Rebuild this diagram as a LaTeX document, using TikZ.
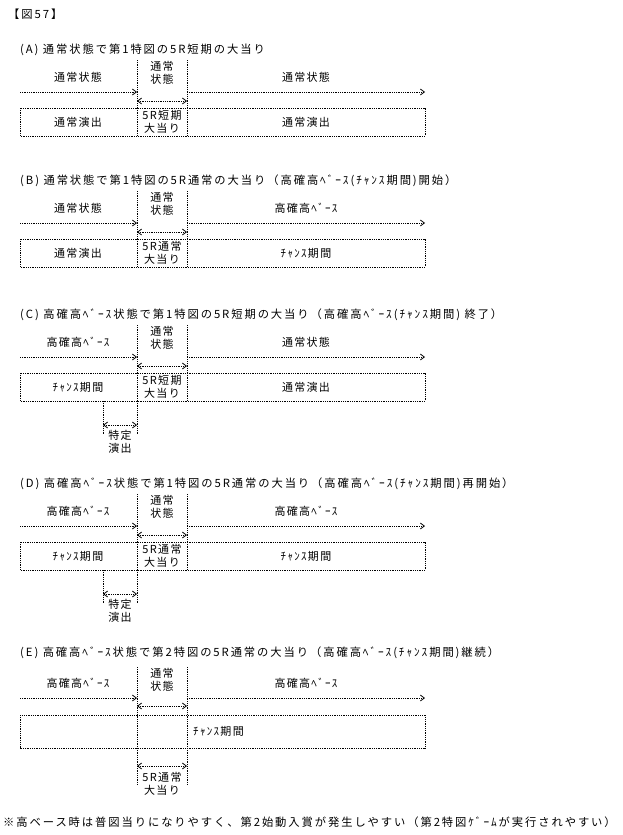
\documentclass[tikz,border=0pt]{standalone}
\usepackage{fontspec}
\setmainfont{Noto Sans CJK JP}
\usetikzlibrary{arrows.meta}
\tikzset{
  dotline/.style={densely dotted, line width=0.8pt},
  arrow/.style={dotline, -{Straight Barb[length=4pt,width=6pt]}},
  darrow/.style={dotline, {Straight Barb[length=4pt,width=6pt]}-{Straight Barb[length=4pt,width=6pt]}},
  lbl/.style={font=\fontsize{11}{12.5}\selectfont\addfontfeatures{LetterSpace=12}, inner sep=1pt, align=center},
  ttl/.style={font=\fontsize{11.3}{13}\selectfont\addfontfeatures{LetterSpace=17}, anchor=west, inner sep=0pt}
}
% one timeline section: id, y offset, title, left label, right label, box left, box mid, box right
\newcommand\tlsec[8]{%
  \begin{scope}[shift={(0,#2)}]
    \node (#1t) [ttl] at (20,0) {#3};
    \node (#1l) [lbl] at (78,27) {#4};
    \node (#1m) [lbl] at (162,23) {通常\\状態};
    \node (#1r) [lbl] at (306,27) {#5};
    \coordinate (#1a0) at (20,42);
    \coordinate (#1a1) at (137,42);
    \coordinate (#1a2) at (187,42);
    \coordinate (#1a3) at (425,42);
    \coordinate (#1d1) at (137,51);
    \coordinate (#1d2) at (187,51);
    \draw [dotline] (137,10) -- (137,58);
    \draw [dotline] (187,10) -- (187,58);
    \draw [arrow] (#1a0) -- (#1a1);
    \draw [arrow] (#1a2) -- (#1a3);
    \draw [darrow] (#1d1) -- (#1d2);
    \draw [dotline] (20,58) rectangle (425,86);
    \draw [dotline] (137,58) -- (137,86);
    \draw [dotline] (187,58) -- (187,86);
    \node (#1b1) [lbl] at (78,72) {#6};
    \node (#1b2) [lbl] at (162,72) {#7};
    \node (#1b3) [lbl] at (306,72) {#8};
  \end{scope}}
% extra special-effect span below the box
\newcommand\tlspec[2]{%
  \begin{scope}[shift={(0,#2)}]
    \draw [dotline] (103,86) -- (103,120);
    \draw [dotline] (137,86) -- (137,120);
    \coordinate (#1s1) at (103,110);
    \coordinate (#1s2) at (137,110);
    \draw [darrow] (#1s1) -- (#1s2);
    \node (#1s) [lbl] at (120,127) {特定\\演出};
  \end{scope}}
\begin{document}
\begin{tikzpicture}[x=1pt,y=-1pt]
\useasboundingbox (0,0) rectangle (622,835);

\node (fig) [ttl] at (8,14) {【図57】};

\tlsec{A}{50}{(A) 通常状態で第1特図の5R短期の大当り}{通常状態}{通常状態}{通常演出}{5R短期\\大当り}{通常演出}
\tlsec{B}{181}{(B) 通常状態で第1特図の5R通常の大当り（高確高ﾍﾞｰｽ(ﾁｬﾝｽ期間)開始）}{通常状態}{高確高ﾍﾞｰｽ}{通常演出}{5R通常\\大当り}{ﾁｬﾝｽ期間}
\tlsec{C}{315}{(C) 高確高ﾍﾞｰｽ状態で第1特図の5R短期の大当り（高確高ﾍﾞｰｽ(ﾁｬﾝｽ期間) 終了）}{高確高ﾍﾞｰｽ}{通常状態}{ﾁｬﾝｽ期間}{5R短期\\大当り}{通常演出}
\tlspec{C}{315}
\tlsec{D}{484}{(D) 高確高ﾍﾞｰｽ状態で第1特図の5R通常の大当り（高確高ﾍﾞｰｽ(ﾁｬﾝｽ期間)再開始）}{高確高ﾍﾞｰｽ}{高確高ﾍﾞｰｽ}{ﾁｬﾝｽ期間}{5R通常\\大当り}{ﾁｬﾝｽ期間}
\tlspec{D}{484}

% section E: long box, big hit shown below
\begin{scope}[shift={(0,653)}]
  \node (Et) [ttl] at (20,0) {(E) 高確高ﾍﾞｰｽ状態で第2特図の5R通常の大当り（高確高ﾍﾞｰｽ(ﾁｬﾝｽ期間)継続）};
  \node (El) [lbl] at (78,30) {高確高ﾍﾞｰｽ};
  \node (Em) [lbl] at (162,27) {通常\\状態};
  \node (Er) [lbl] at (306,30) {高確高ﾍﾞｰｽ};
  \coordinate (Ea0) at (20,45);
  \coordinate (Ea1) at (137,45);
  \coordinate (Ea2) at (187,45);
  \coordinate (Ea3) at (425,45);
  \coordinate (Ed1) at (137,53);
  \coordinate (Ed2) at (187,53);
  \coordinate (Ee1) at (137,113);
  \coordinate (Ee2) at (187,113);
  \draw [dotline] (137,14) -- (137,132);
  \draw [dotline] (187,14) -- (187,132);
  \draw [arrow] (Ea0) -- (Ea1);
  \draw [arrow] (Ea2) -- (Ea3);
  \draw [darrow] (Ed1) -- (Ed2);
  \draw [dotline] (20,62) rectangle (425,95);
  \node (Eb) [lbl, anchor=west] at (192,78.5) {ﾁｬﾝｽ期間};
  \draw [darrow] (Ee1) -- (Ee2);
  \node (Eh) [lbl] at (162,131) {5R通常\\大当り};
\end{scope}

\node (note) [ttl] at (3,822) {※高ベース時は普図当りになりやすく、第2始動入賞が発生しやすい（第2特図ｹﾞｰﾑが実行されやすい）};
\end{tikzpicture}
\end{document}
